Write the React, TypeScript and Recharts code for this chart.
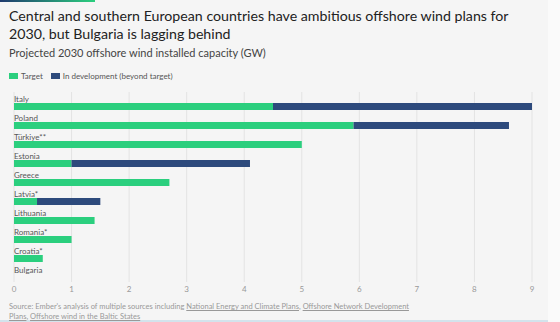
import { BarChart, Bar, XAxis, YAxis, CartesianGrid } from 'recharts';

const countries = [
  'Italy',
  'Poland',
  'Türkiye**',
  'Estonia',
  'Greece',
  'Latvia*',
  'Lithuania',
  'Romania*',
  'Croatia*',
  'Bulgaria',
];
const target = [4.5, 5.9, 5, 1, 2.7, 0.4, 1.4, 1, 0.5, 0];
const inDevelopment = [4.5, 2.7, 0, 3.1, 0, 1.1, 0, 0, 0, 0];
const xTicks = [0, 1, 2, 3, 4, 5, 6, 7, 8, 9];

const data = countries.map((name, i) => ({
  name,
  target: target[i],
  dev: inDevelopment[i],
}));

const GREEN = '#2bcf7e';
const NAVY = '#2d4a7c';
const FONT = 'Lato, "Noto Sans", sans-serif';

// bars sit in the lower half of each row, label above
const ShiftedBar = (props: any) => {
  const { x, y, width, height, fill } = props;
  if (!width || width <= 0) return null;
  return <rect x={x} y={y + 5} width={width} height={height} fill={fill} />;
};

const renderCountryTick = (props: any) => {
  const { y, payload } = props;
  return (
    <text x={14} y={y} textAnchor="start" fontSize={8} fill="#555" fontFamily={FONT}>
      {payload.value}
    </text>
  );
};

const link = { textDecoration: 'underline' } as const;

export default function App() {
  return (
    <div
      style={{
        position: 'absolute',
        left: 0,
        top: 0,
        width: 560,
        height: 322,
        background: '#fafafa',
        fontFamily: FONT,
        overflow: 'hidden',
      }}
    >
      <div
        style={{
          position: 'absolute',
          left: 0,
          top: 0,
          width: 548,
          height: 320,
          background: '#f5f5f5',
          borderBottom: '2px solid #d3e3ec',
        }}
      >
        <div
          style={{
            position: 'absolute',
            left: 0,
            top: 0,
            width: 95,
            height: 2,
            background: 'linear-gradient(90deg, #1f3a6e, #2bcf7e)',
          }}
        />
        <div
          style={{
            position: 'absolute',
            left: 9,
            top: 7,
            width: 530,
            fontSize: 14.2,
            lineHeight: '18px',
            color: '#222',
          }}
        >
          Central and southern European countries have ambitious offshore wind plans for
          2030, but Bulgaria is lagging behind
        </div>
        <div style={{ position: 'absolute', left: 9, top: 46, fontSize: 11, color: '#444' }}>
          Projected 2030 offshore wind installed capacity (GW)
        </div>
        <div
          style={{
            position: 'absolute',
            left: 9,
            top: 71,
            fontSize: 8,
            color: '#555',
            display: 'flex',
            alignItems: 'center',
          }}
        >
          <span style={{ width: 9, height: 6, background: GREEN, marginRight: 3 }} />
          <span style={{ marginRight: 8 }}>Target</span>
          <span style={{ width: 9, height: 6, background: NAVY, marginRight: 3 }} />
          <span>In development (beyond target)</span>
        </div>

        <div style={{ position: 'absolute', left: 0, top: 0 }}>
          <BarChart
            width={560}
            height={322}
            data={data}
            layout="vertical"
            margin={{ top: 92, right: 28, left: 13, bottom: 20 }}
            barSize={7}
          >
            <CartesianGrid horizontal={false} stroke="#e3e3e3" />
            <XAxis
              type="number"
              domain={[0, 9]}
              ticks={xTicks}
              height={20}
              tickSize={0}
              tickMargin={4}
              axisLine={false}
              tickLine={false}
              tick={{ fontSize: 8, fill: '#999', fontFamily: FONT }}
            />
            <YAxis
              type="category"
              dataKey="name"
              width={1}
              tickSize={0}
              tickMargin={0}
              axisLine={false}
              tickLine={false}
              tick={renderCountryTick}
              interval={0}
            />
            <Bar dataKey="target" stackId="a" fill={GREEN} shape={<ShiftedBar />} isAnimationActive={false} />
            <Bar dataKey="dev" stackId="a" fill={NAVY} shape={<ShiftedBar />} isAnimationActive={false} />
          </BarChart>
        </div>

        <div
          style={{
            position: 'absolute',
            left: 9,
            top: 302,
            fontSize: 7.5,
            lineHeight: '10px',
            color: '#999',
            whiteSpace: 'nowrap',
          }}
        >
          <div>
            Source: Ember's analysis of multiple sources including{' '}
            <span style={link}>National Energy and Climate Plans</span>,{' '}
            <span style={link}>Offshore Network Development</span>
          </div>
          <div>
            <span style={link}>Plans</span>, <span style={link}>Offshore wind in the Baltic States</span>
          </div>
        </div>
      </div>
    </div>
  );
}
